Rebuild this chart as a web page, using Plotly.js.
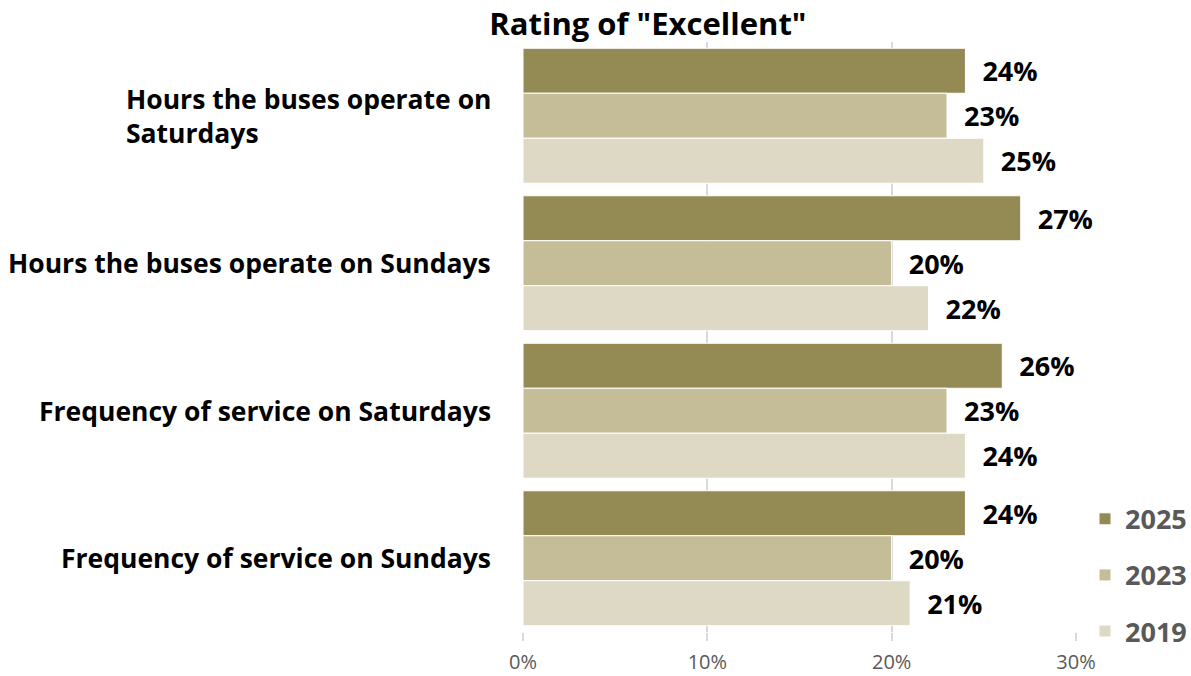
<!DOCTYPE html>
<html>
<head>
<meta charset="utf-8">
<script src="https://cdn.plot.ly/plotly-3.0.1.min.js"></script>
<style>html,body{margin:0;padding:0;background:#fff;}#chart{width:1191px;height:676px;}</style>
</head>
<body>
<div id="chart"></div>
<script>
const categories = [
  "Hours the buses operate on<br>Saturdays",
  "Hours the buses operate on Sundays",
  "Frequency of service on Saturdays",
  "Frequency of service on Sundays"
];
const years = ["2025", "2023", "2019"];
const values2025 = [24, 27, 26, 24];
const values2023 = [23, 20, 23, 20];
const values2019 = [25, 22, 24, 21];
const xTickVals = [0, 10, 20, 30];
const xTickText = ["0%", "10%", "20%", "30%"];

const colors = ["#948A54", "#C4BD97", "#DDD9C4"];
const series = [values2025, values2023, values2019];
const FONT = "'Open Sans', sans-serif";

const traces = series.map((vals, i) => ({
  type: "bar",
  orientation: "h",
  name: years[i],
  legendgroup: years[i],
  y: categories,
  x: vals,
  marker: {color: colors[i], line: {color: "#ffffff", width: 1}},
  text: vals.map(v => "\u00a0\u00a0" + v + "%"),
  texttemplate: "%{text}",
  textposition: "outside",
  cliponaxis: false,
  textfont: {family: FONT, size: 27, color: "#000000", weight: "bold"},
  hoverinfo: "skip"
}));

const annotations = categories.map(c => ({
  xref: "paper", yref: "y", x: 0, y: c,
  xanchor: "right", yanchor: "middle", xshift: -30,
  align: "left", showarrow: false,
  text: c,
  font: {family: FONT, size: 26.5, color: "#000000", weight: "bold"}
}));

const layout = {
  width: 1191, height: 676,
  margin: {l: 523, r: 115, t: 42, b: 44, pad: 0, autoexpand: false},
  paper_bgcolor: "#ffffff", plot_bgcolor: "#ffffff",
  barmode: "group",
  bargap: 0.085,
  bargroupgap: 0,
  title: {
    text: "<b>Rating of \"Excellent\"</b>",
    x: 0.544, xref: "container", xanchor: "center",
    y: 0.965, yref: "container", yanchor: "middle",
    font: {family: FONT, size: 31, color: "#000000"}
  },
  xaxis: {
    range: [0, 30],
    tickvals: xTickVals, ticktext: xTickText,
    showgrid: true, gridcolor: "#d9d9d9", gridwidth: 2,
    zeroline: false,
    ticks: "outside", ticklen: 8, tickcolor: "#d9d9d9", tickwidth: 2,
    tickfont: {family: FONT, size: 20, color: "#595959"},
    ticklabelstandoff: 4,
    showline: false, fixedrange: true
  },
  yaxis: {
    autorange: "reversed",
    showticklabels: false,
    showgrid: false, zeroline: false, showline: false, ticks: "",
    fixedrange: true
  },
  showlegend: true,
  legend: {
    xref: "container", yref: "container",
    x: 0.911, xanchor: "left",
    y: 0.149, yanchor: "middle",
    traceorder: "grouped",
    tracegroupgap: 18,
    font: {family: FONT, size: 27, color: "#595959", weight: "bold"},
    bgcolor: "rgba(0,0,0,0)",
    itemclick: false, itemdoubleclick: false
  },
  annotations: annotations
};

Plotly.newPlot("chart", traces, layout, {displayModeBar: false, staticPlot: true});
</script>
</body>
</html>
